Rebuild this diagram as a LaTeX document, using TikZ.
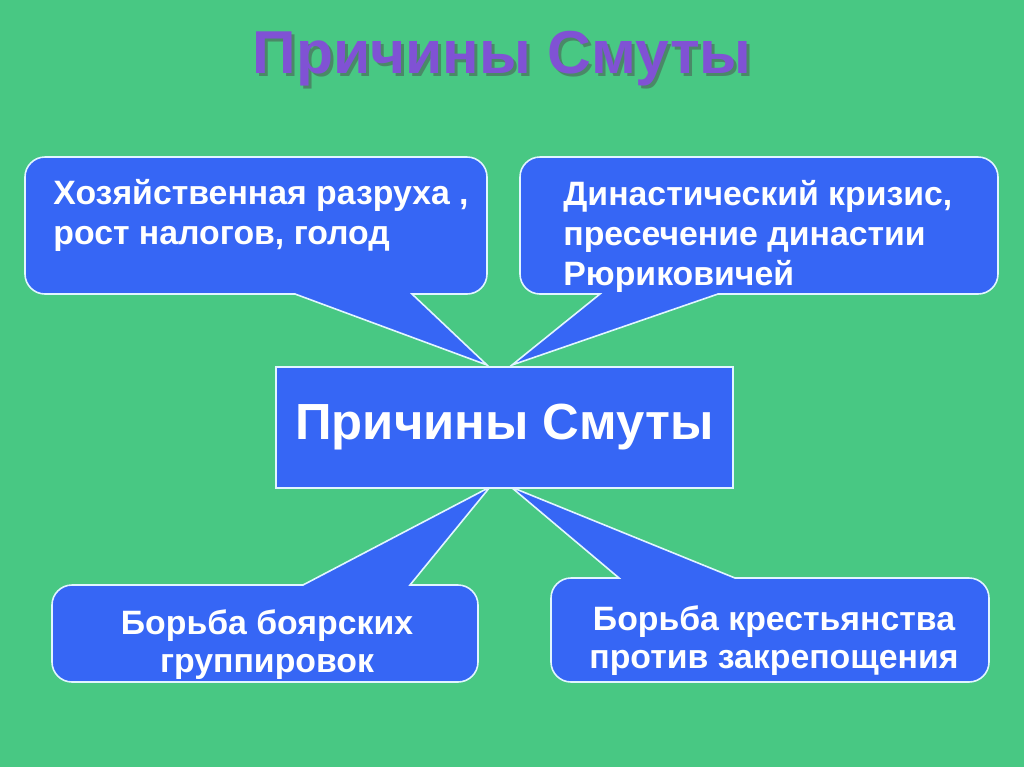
\documentclass[tikz,border=0pt]{standalone}
\usepackage{fontspec}
\setmainfont{Liberation Sans}
\definecolor{bggreen}{RGB}{72,200,131}
\definecolor{boxblue}{RGB}{54,102,245}
\definecolor{titlepurple}{RGB}{128,82,212}
\definecolor{edgewhite}{RGB}{225,245,255}

\tikzset{
  bubble/.style={fill=boxblue, draw=edgewhite, line width=0.8pt, line join=miter},
  boxtext/.style={text=white, font=\bfseries\fontsize{16.9}{20}\selectfont, inner sep=0pt},
}

\begin{document}
\begin{tikzpicture}[x=0.5pt, y=-0.5pt]
    \fill[bggreen] (0,0) rectangle (1024,767);
    \useasboundingbox (0,0) rectangle (1024,767);

    % title with shadow
    \node (tshadow) [anchor=base, text=black!70, opacity=0.5, font=\bfseries\fontsize{30.3}{36}\selectfont] at (505,76) {Причины Смуты};
    \node (title) [anchor=base, text=titlepurple, font=\bfseries\fontsize{30.3}{36}\selectfont] at (502,73) {Причины Смуты};

    % tips of the callouts
    \coordinate (tipA) at (487,365);
    \coordinate (tipB) at (512,365);
    \coordinate (tipC) at (490,487);
    \coordinate (tipD) at (511,487);

    % callouts
    \draw[bubble] (tipA) -- (412,294) [rounded corners=10pt] -- (487,294) -- (487,157) -- (25,157) -- (25,294) [sharp corners] -- (295,294) -- cycle;
    \draw[bubble] (tipB) -- (600,294) [rounded corners=10pt] -- (520,294) -- (520,157) -- (998,157) -- (998,294) [sharp corners] -- (718,294) -- cycle;
    \draw[bubble] (tipC) -- (410,585) [rounded corners=10pt] -- (478,585) -- (478,682) -- (52,682) -- (52,585) [sharp corners] -- (303,585) -- cycle;
    \draw[bubble] (tipD) -- (619,578) [rounded corners=10pt] -- (551,578) -- (551,682) -- (989,682) -- (989,578) [sharp corners] -- (735,578) -- cycle;

    % centre
    \node (cause) [bubble, minimum width=228.5pt, minimum height=60.5pt, text=white,
      font=\bfseries\fontsize{25.4}{30}\selectfont] at (504.5,427.5) {Причины Смуты};

    \node (ruin) [boxtext, anchor=west, align=left] at (53,215) {Хозяйственная разруха ,\\рост налогов, голод};
    \node (dynasty) [boxtext, anchor=west, align=left] at (563,236) {Династический кризис,\\пресечение династии\\Рюриковичей};
    \node (boyars) [boxtext, align=center, font=\bfseries\fontsize{16.9}{19}\selectfont] at (267,645) {Борьба боярских\\группировок};
    \node (peasants) [boxtext, align=center, font=\bfseries\fontsize{16.9}{19}\selectfont] at (774,641) {Борьба крестьянства\\против закрепощения};
\end{tikzpicture}
\end{document}
